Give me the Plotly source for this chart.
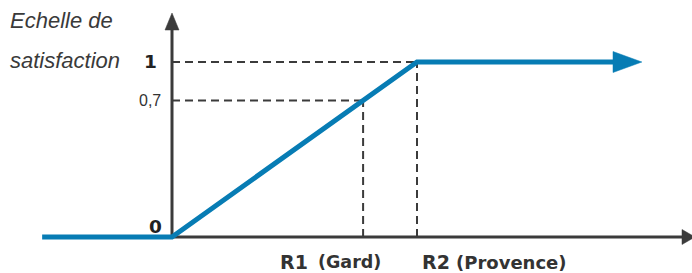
import plotly.graph_objects as go

W, H = 692, 273

# ---------------- data ----------------
curve_x = [-0.53, 0.0, 1.0, 1.80]      # satisfaction function (before arrowhead)
curve_y = [0.0, 0.0, 1.0, 1.0]
curve_tip_x = 1.918                     # tip of the blue arrow
r1_x, r1_y = 0.78, 0.78                 # R1 (Gard)  -> level "0,7"
r2_x, r2_y = 1.0, 1.0                   # R2 (Provence) -> level "1"
level_labels = ["0", "0,7", "1"]
point_labels = ["R1", "R2"]
point_subs = ["(Gard)", "(Provence)"]
y_title = ["Echelle de", "satisfaction"]

# ---------------- layout scale (pixels) ----------------
X0, Y0 = 172, 237      # origin in pixels
SX, SY = 245, 175      # pixels per data unit
xr = [-X0 / SX, (W - X0) / SX]
yr = [-(H - Y0) / SY, Y0 / SY]


def dx(px):
    return px / SX


def dy(px):
    return px / SY


BLUE = "#077cb4"
GREY = "#3b3b3b"

fig = go.Figure()


def line(xs, ys, color, width, dash=None):
    fig.add_trace(go.Scatter(x=xs, y=ys, mode="lines",
                             line=dict(color=color, width=width, dash=dash),
                             hoverinfo="skip", showlegend=False))


def tri(xs, ys, color):
    fig.add_trace(go.Scatter(x=xs, y=ys, mode="lines", fill="toself",
                             fillcolor=color, line=dict(color=color, width=0.5),
                             hoverinfo="skip", showlegend=False))


DASH = "8px,5px"
# dashed guides
line([0, r2_x], [r2_y, r2_y], GREY, 2, DASH)
line([r2_x, r2_x], [0, r2_y], GREY, 2, DASH)
line([0, r1_x], [r1_y, r1_y], GREY, 2, DASH)
line([r1_x, r1_x], [0, r1_y], GREY, 2, DASH)

# axes
y_base = dy(Y0 - 30)
y_tip = dy(Y0 - 13)
line([0, 0], [0, y_base], GREY, 3)
tri([-dx(7), dx(7), 0, -dx(7)], [y_base, y_base, y_tip, y_base], GREY)

x_base = dx(682 - X0)
x_tip = dx(695 - X0)
line([0, x_base], [0, 0], GREY, 3)
tri([x_base, x_base, x_tip, x_base], [-dy(7.5), dy(7.5), 0, -dy(7.5)], GREY)

# satisfaction curve
line(curve_x, curve_y, BLUE, 5)
cx_end = curve_x[-1]
cy_end = curve_y[-1]
tri([cx_end, cx_end, curve_tip_x, cx_end],
    [cy_end - dy(10.5), cy_end + dy(10.5), cy_end, cy_end - dy(10.5)], BLUE)

# ---------------- text ----------------
ann = []


def text(t, xpx, ypx, size, family, anchor="left", color="#333333", italic=False, bold=False):
    s = t
    if bold:
        s = "<b>" + s + "</b>"
    if italic:
        s = "<i>" + s + "</i>"
    ann.append(dict(text=s, xref="paper", yref="paper",
                    x=xpx / W, y=1 - ypx / H, xanchor=anchor, yanchor="middle",
                    showarrow=False, borderpad=0,
                    font=dict(size=size, family=family, color=color)))


SANS = "Liberation Sans"
HEAVY = "DejaVu Sans"

text(y_title[0], 9, 21.0, 22, SANS, italic=True, color="#3a3a3a")
text(y_title[1], 9, 60.0, 22, SANS, italic=True, color="#3a3a3a")

text(level_labels[2], 158, 61.8, 18.5, HEAVY, anchor="right", bold=True, color="#222222")
text(level_labels[1], 162, 100.4, 16, SANS, anchor="right", color="#333333")
text(level_labels[0], 163, 226.8, 18.5, HEAVY, anchor="right", bold=True, color="#222222")

text(point_labels[0], 279, 261.5, 19, HEAVY, bold=True)
text(point_subs[0], 317, 262.2, 17.5, HEAVY, bold=True)
text(point_labels[1], 421, 261.5, 19, HEAVY, bold=True)
text(point_subs[1], 455, 262.2, 18, HEAVY, bold=True)

fig.update_layout(
    width=W, height=H, autosize=False,
    margin=dict(l=0, r=0, t=0, b=0),
    paper_bgcolor="white", plot_bgcolor="white",
    xaxis=dict(range=xr, visible=False, fixedrange=True),
    yaxis=dict(range=yr, visible=False, fixedrange=True),
    annotations=ann,
    showlegend=False,
)

fig.write_html("out.html", config={"displayModeBar": False},
               post_script="document.body.style.margin='0';document.body.style.padding='0';")
